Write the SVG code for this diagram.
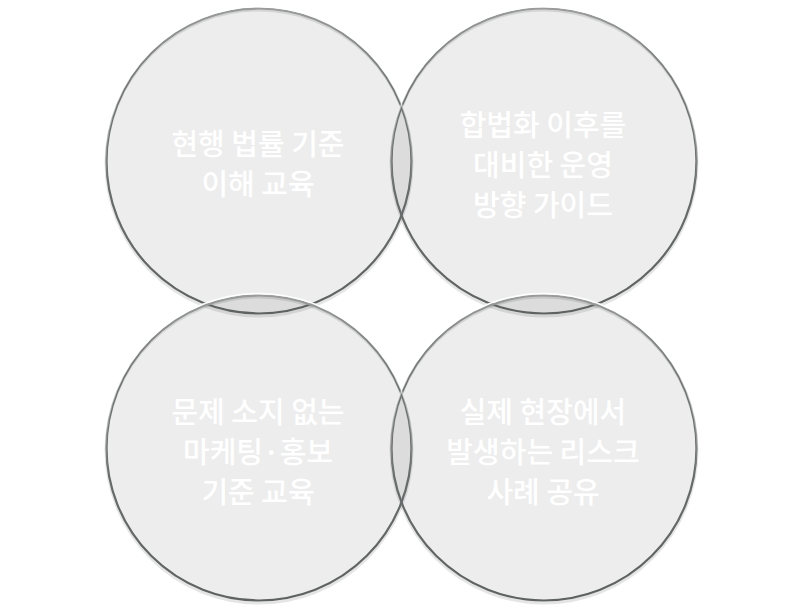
<svg xmlns="http://www.w3.org/2000/svg" width="800" height="616" viewBox="0 0 800 616">
<defs>
<linearGradient id="hl" x1="0" y1="0" x2="0" y2="1">
<stop offset="0" stop-color="#ffffff" stop-opacity="1"/>
<stop offset="0.35" stop-color="#ffffff" stop-opacity="0.5"/>
<stop offset="0.6" stop-color="#ffffff" stop-opacity="0"/>
</linearGradient>
<linearGradient id="dk" x1="0" y1="0" x2="0" y2="1">
<stop offset="0" stop-color="#9a9c9c"/>
<stop offset="0.3" stop-color="#6f7272"/>
<stop offset="1" stop-color="#5f6262"/>
</linearGradient>
<style>
.c{fill:#000;fill-opacity:0.07;stroke:none}
.e{fill:none;stroke:url(#dk);stroke-width:2.2}
.h{fill:none;stroke:url(#hl);stroke-width:1.4}
.s{fill:none;stroke:#000;stroke-opacity:0.1;stroke-width:3}
.t{font-family:"Noto Sans CJK KR","Noto Sans",sans-serif;font-size:29px;font-weight:500;fill:#ffffff;text-anchor:middle}
</style>
</defs>
<rect width="800" height="616" fill="#ffffff"/>
<g id="node-tl">
<circle class="c" cx="259" cy="161" r="153"/>
</g>
<g id="node-tr">
<circle class="c" cx="544" cy="161" r="153"/>
</g>
<g id="node-bl">
<circle class="c" cx="259" cy="448" r="153"/>
</g>
<g id="node-br">
<circle class="c" cx="544" cy="448" r="153"/>
</g>
<g id="outlines">
<circle class="s" cx="259" cy="163" r="153"/>
<circle class="s" cx="544" cy="163" r="153"/>
<circle class="s" cx="259" cy="450" r="153"/>
<circle class="s" cx="544" cy="450" r="153"/>
<circle class="e" cx="259" cy="161" r="152.5"/>
<circle class="e" cx="544" cy="161" r="152.5"/>
<circle class="e" cx="259" cy="448" r="152.5"/>
<circle class="e" cx="544" cy="448" r="152.5"/>
<circle class="h" cx="259" cy="159.5" r="153"/>
<circle class="h" cx="544" cy="159.5" r="153"/>
<circle class="h" cx="259" cy="446.5" r="153"/>
<circle class="h" cx="544" cy="446.5" r="153"/>
</g>
<g id="labels">
<text class="t" x="258" y="155">현행 법률 기준</text>
<text class="t" x="258" y="195">이해 교육</text>
<text class="t" x="543" y="136">합법화 이후를</text>
<text class="t" x="543" y="176">대비한 운영</text>
<text class="t" x="543" y="216">방향 가이드</text>
<text class="t" x="258" y="423">문제 소지 없는</text>
<text class="t" x="258" y="463">마케팅·홍보</text>
<text class="t" x="258" y="503">기준 교육</text>
<text class="t" x="543" y="423">실제 현장에서</text>
<text class="t" x="543" y="463">발생하는 리스크</text>
<text class="t" x="543" y="503">사례 공유</text>
</g>
</svg>
